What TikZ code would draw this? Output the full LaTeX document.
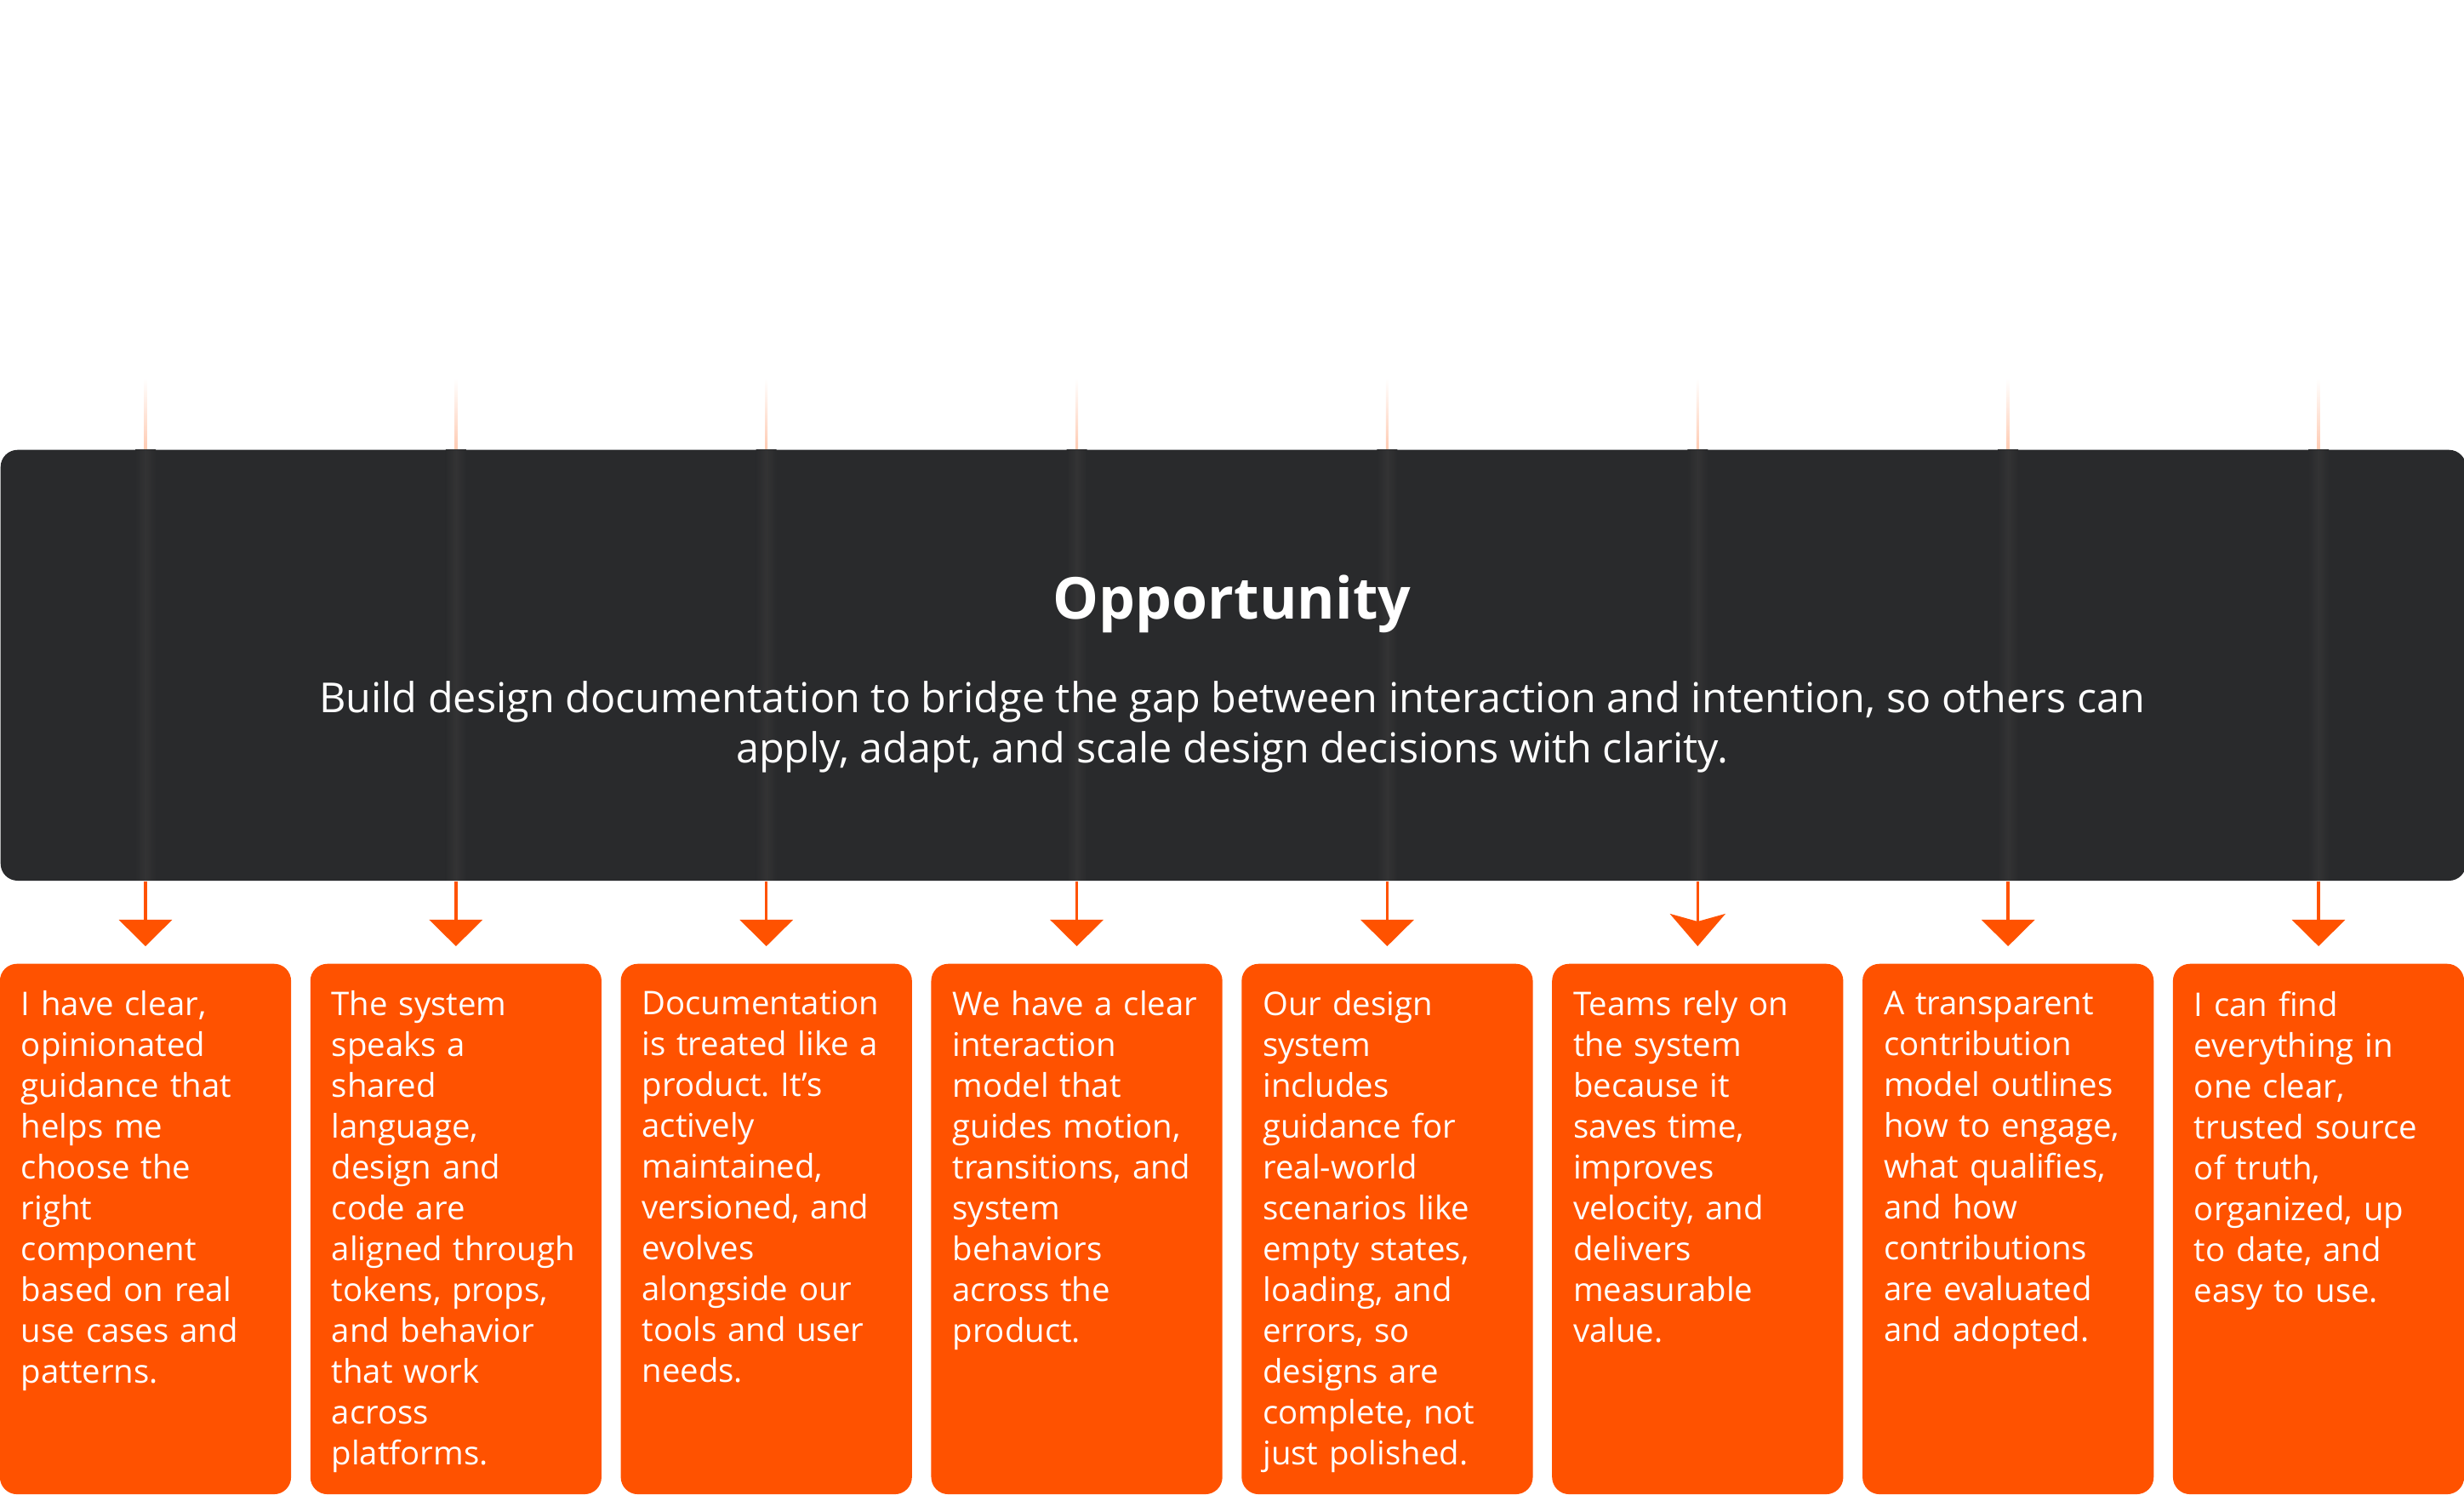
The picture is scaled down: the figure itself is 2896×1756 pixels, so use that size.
\documentclass[tikz,border=0pt]{standalone}
\usepackage{fontspec}
\setmainfont{Open Sans}
\usetikzlibrary{arrows.meta,positioning}
\frenchspacing

\definecolor{oppdark}{HTML}{292A2C}
\definecolor{oppglow}{HTML}{333334}
\definecolor{accent}{HTML}{FF5200}

\tikzset{
  oppbox/.style={fill=oppdark, rounded corners=0.2cm, minimum width=28.96cm, minimum height=5.06cm, inner sep=0pt},
  card/.style={fill=accent, rounded corners=0.2cm, minimum width=3.42cm, minimum height=6.23cm, inner sep=0pt, anchor=north},
  cardtext/.style={text=white, text width=3.1cm, align=left, inner sep=0pt, anchor=north west, font={\fontsize{10.9pt}{13.65pt}\selectfont}},
  link/.style={accent, line width=1pt, -{Triangle[width=0.62cm,length=0.31cm]}, shorten >=0.2cm},
}

\begin{document}
\begin{tikzpicture}[x=0.01cm, y=-0.01cm]
\useasboundingbox (0,0) rectangle (2896,1756);

% dark panel
\node[oppbox, anchor=north west] (opp) at (0,528) {};

% cards
\foreach \i/\txt in {
  1/{I have clear,\\ opinionated\\ guidance that\\ helps me\\ choose the\\ right\\ component\\ based on real\\ use cases and\\ patterns.},
  2/{The system\\ speaks a\\ shared\\ language,\\ design and\\ code are\\ aligned through\\ tokens, props,\\ and behavior\\ that work\\ across\\ platforms.},
  3/{Documentation\\ is treated like a\\ product. It’s\\ actively\\ maintained,\\ versioned, and\\ evolves\\ alongside our\\ tools and user\\ needs.},
  4/{We have a clear\\ interaction\\ model that\\ guides motion,\\ transitions, and\\ system\\ behaviors\\ across the\\ product.},
  5/{Our design\\ system\\ includes\\ guidance for\\ real-world\\ scenarios like\\ empty states,\\ loading, and\\ errors, so\\ designs are\\ complete, not\\ just polished.},
  6/{Teams rely on\\ the system\\ because it\\ saves time,\\ improves\\ velocity, and\\ delivers\\ measurable\\ value.},
  7/{A transparent\\ contribution\\ model outlines\\ how to engage,\\ what qualifies,\\ and how\\ contributions\\ are evaluated\\ and adopted.},
  8/{I can find\\ everything in\\ one clear,\\ trusted source\\ of truth,\\ organized, up\\ to date, and\\ easy to use.}} {
  \node[card] (card\i) at ({364.86*(\i-1)+171},1132) {};
  \node[cardtext] (txt\i) at ([xshift=0.25cm,yshift=-0.32cm]card\i.north west) {\txt};
}

% threads through the panel
\foreach \i in {1,...,8} {
  \path (card\i.north) ++(0,-687) coordinate (src\i);
  \shade[top color=white, bottom color=accent!30] (src\i) ++(-1.5,0) rectangle ++(3,83);
  \shade[left color=oppdark, right color=oppdark, middle color=oppglow] (src\i) ++(-12,83) rectangle ++(24,506);
}

% arrows
\foreach \i in {1,...,5,7,8}
  \draw[link] (opp.south -| card\i.north) -- (card\i.north);
\draw[link, -{Stealth[width=0.65cm,length=0.38cm,inset=0.09cm]}] (opp.south -| card6.north) -- (card6.north);

% panel text
\node[text=white, anchor=base, font={\fontsize{19.3pt}{23pt}\selectfont\bfseries}] (title) at (1448,727) {Opportunity};
\node[text=white, anchor=north, align=center, font={\fontsize{13.8pt}{16.8pt}\selectfont}] (sub) at (1448,788)
  {Build design documentation to bridge the gap between interaction and intention, so others can\\ apply, adapt, and scale design decisions with clarity.};
\end{tikzpicture}
\end{document}
